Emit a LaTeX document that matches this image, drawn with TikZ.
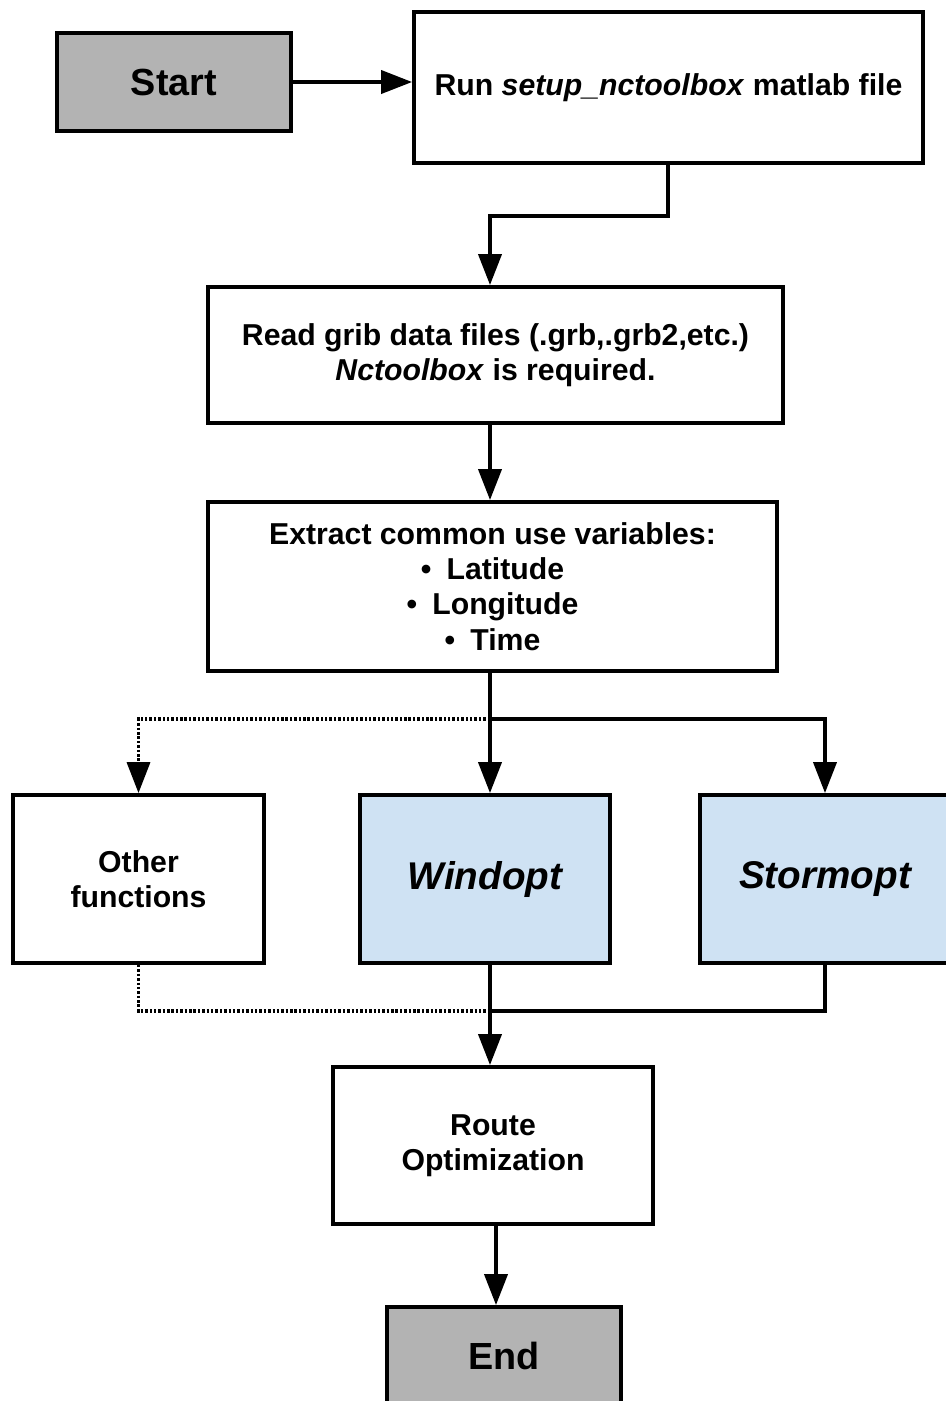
\documentclass[tikz,border=0pt]{standalone}
\usepackage{fontspec}
\setmainfont{Liberation Sans}
\usetikzlibrary{positioning, calc, arrows.meta}
\definecolor{termgray}{HTML}{B3B3B3}
\definecolor{optblue}{HTML}{CFE2F3}

\begin{document}
\begin{tikzpicture}[x=0.02cm, y=-0.02cm, line width=2.2pt, >={Triangle[length=0.62cm,width=0.46cm]},
  box/.style={draw, rectangle, fill=white, align=center, font=\fontsize{17.2}{20}\selectfont\bfseries},
  term/.style={box, fill=termgray, font=\fontsize{21.5}{25}\selectfont\bfseries},
  optbox/.style={box, fill=optblue, font=\fontsize{22}{25}\selectfont\bfseries\itshape},
  dotline/.style={line width=2pt, dash pattern=on 1.4pt off 1.1pt},
  ]
  \useasboundingbox (0,0) rectangle (946,1401);

  \node[term, minimum width=4.68cm, minimum height=1.96cm] (start) at (174,82) {Start};
  \node[box, minimum width=10.18cm, minimum height=3.02cm] (run) at (668.5,87.5) {Run \textit{setup\_nctoolbox} matlab file};
  \node[box, minimum width=11.5cm, minimum height=2.72cm] (read) at (495.5,355) {Read grib data files (.grb,.grb2,etc.)\\ \textit{Nctoolbox} is required.};
  \node[box, minimum width=11.38cm, minimum height=3.38cm] (extract) at (492.5,586.5) {Extract common use variables:\\ \textbullet\enspace Latitude\\ \textbullet\enspace Longitude\\ \textbullet\enspace Time};
  \node[box, minimum width=5.02cm, minimum height=3.36cm] (other) at (138.5,879) {Other\\ functions};
  \node[optbox, minimum width=5cm, minimum height=3.36cm] (windopt) at (485,879) {Windopt};
  \node[optbox, minimum width=5cm, minimum height=3.36cm] (stormopt) at (825,879) {Stormopt};
  \node[box, minimum width=6.4cm, minimum height=3.14cm] (route) at (493,1145.5) {Route\\ Optimization};
  \node[term, minimum width=4.68cm, minimum height=1.96cm] (finish) at (504,1356) {End};

  \coordinate (bend1) at (668,216);
  \coordinate (bend2) at (490,216);
  \coordinate (split) at (490,719);
  \coordinate (join) at (490,1011);

  \draw[->] (start.east) -- (start.east -| run.west);
  \draw[->] (run.south -| bend1) -- (bend1) -- (bend2) -- (bend2 |- read.north);
  \draw[->] (read.south -| split) -- (extract.north -| split);
  \draw[->] (extract.south -| split) -- (windopt.north -| split);
  \draw[->] (split) -| (stormopt.north);
  \draw[->, dotline] (split) -| (other.north);
  \draw[->] (windopt.south -| join) -- (route.north -| join);
  \draw (stormopt.south) |- (join);
  \draw[dotline] (other.south) |- (join);
  \draw[->] ([xshift=0.06cm]route.south) -- ([xshift=0.06cm]route.south |- finish.north);
\end{tikzpicture}
\end{document}
